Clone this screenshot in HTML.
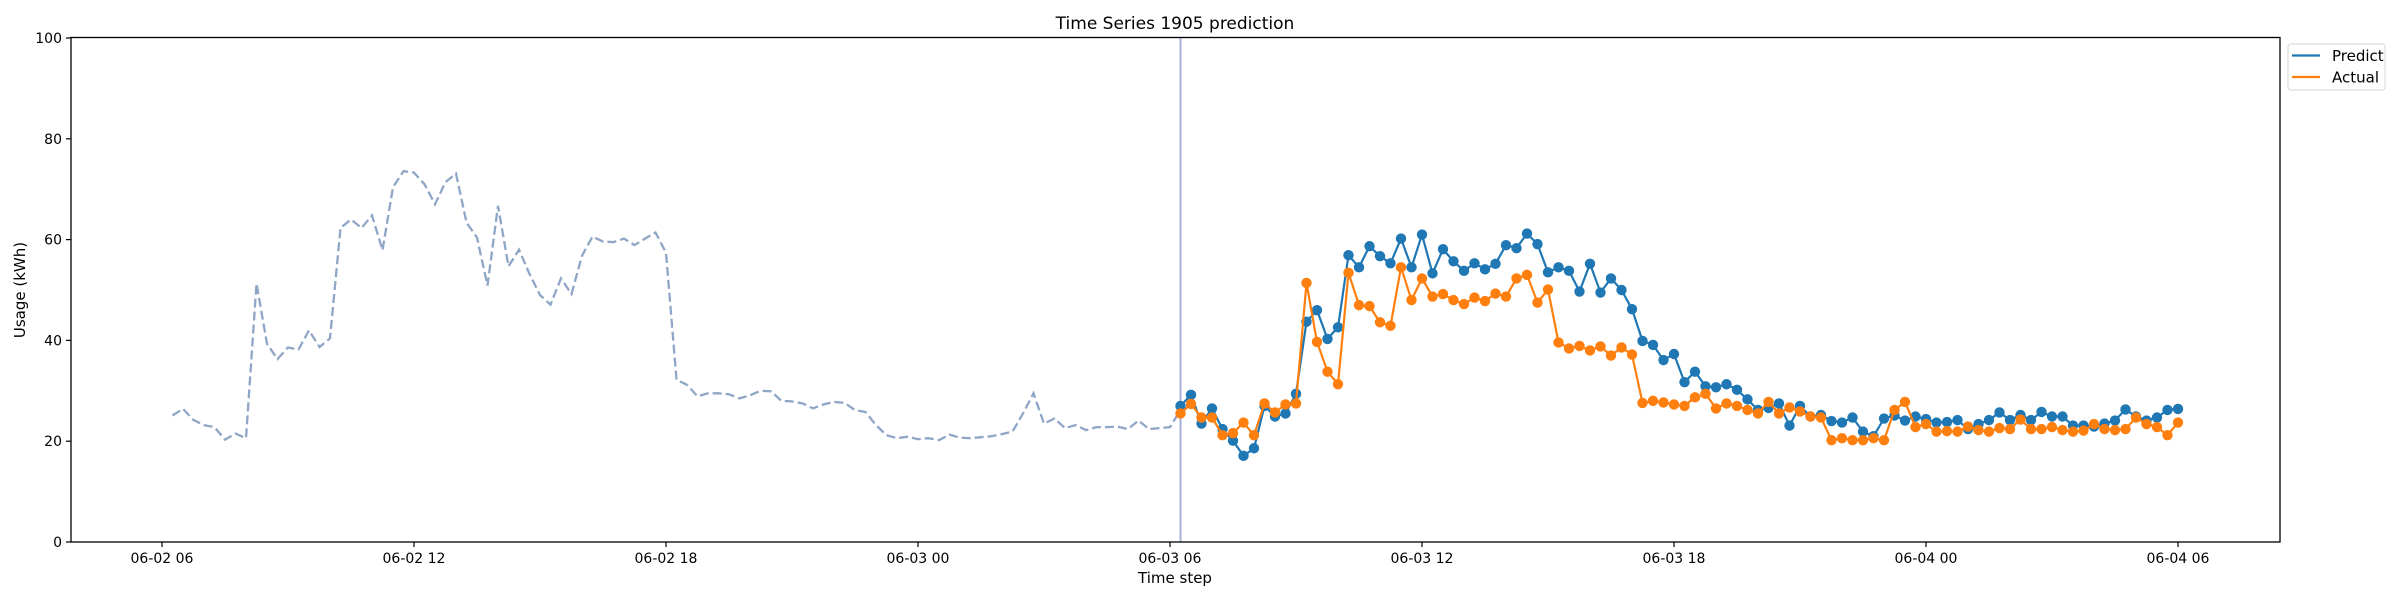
<!DOCTYPE html>
<html>
<head>
<meta charset="utf-8">
<style>
html,body{margin:0;padding:0;background:#fff;}
svg{display:block;font-family:"DejaVu Sans","Liberation Sans",sans-serif;}
</style>
</head>
<body>
<svg id="chart" width="2400" height="600" viewBox="0 0 2400 600" xmlns="http://www.w3.org/2000/svg">
  <rect x="0" y="0" width="2400" height="600" fill="#fff"/>
  <text x="1175" y="29" font-size="17" text-anchor="middle" fill="#000">Time Series 1905 prediction</text>
  <g id="grid"></g>
  <g id="series"></g>
  <rect x="71" y="37.5" width="2209" height="504.5" fill="none" stroke="#000" stroke-width="1.3"/>
  <g id="axes"></g>
  <text x="1175" y="583" font-size="15" text-anchor="middle" fill="#000">Time step</text>
  <text x="25" y="290" font-size="15" text-anchor="middle" fill="#000" transform="rotate(-90 25 290)">Usage (kWh)</text>
  <g>
    <rect x="2288" y="44" width="97" height="46" rx="3" fill="#fff" stroke="#d6d6d6" stroke-width="1"/>
    <line x1="2292" y1="55.5" x2="2320" y2="55.5" stroke="#1f77b4" stroke-width="2.2"/>
    <text x="2332" y="61" font-size="15" fill="#000">Predict</text>
    <line x1="2292" y1="77" x2="2320" y2="77" stroke="#ff7f0e" stroke-width="2.2"/>
    <text x="2332" y="82.5" font-size="15" fill="#000">Actual</text>
  </g>
</svg>
<script>
// History (15-min steps starting 06-02 06:15)
const historyValues = [25.1,26.4,24.2,23.2,22.8,20.3,21.5,20.6,51.3,39.3,36.3,38.6,38.2,42.0,38.7,40.4,62.3,64.0,62.3,64.8,57.9,70.4,73.6,73.3,71.0,67.0,71.4,73.1,63.4,60.4,50.9,66.7,54.7,58.0,53.2,49.0,47.1,52.3,49.2,56.8,60.6,59.6,59.5,60.2,58.9,60.2,61.4,57.4,32.2,31.2,28.9,29.5,29.5,29.3,28.5,29.1,30.0,29.9,28.0,27.9,27.5,26.5,27.3,27.8,27.6,26.2,25.8,23.2,21.2,20.6,20.9,20.4,20.6,20.2,21.3,20.7,20.6,20.8,21.0,21.4,21.9,25.5,29.5,23.5,24.5,22.6,23.2,22.2,22.8,22.8,22.9,22.4,24.1,22.4,22.6,22.8,26.2];
// Forecast (15-min steps starting 06-03 06:15)
const predictValues = [27.0,29.2,23.5,26.5,22.4,20.1,17.1,18.6,27.0,24.9,25.5,29.4,43.7,46.0,40.3,42.6,56.9,54.5,58.7,56.7,55.3,60.2,54.5,61.0,53.3,58.1,55.7,53.8,55.3,54.1,55.2,58.9,58.3,61.2,59.1,53.5,54.5,53.8,49.7,55.2,49.5,52.3,50.0,46.2,39.9,39.1,36.1,37.3,31.7,33.8,30.9,30.7,31.3,30.2,28.3,26.2,26.6,27.5,23.1,27.0,24.9,25.2,24.0,23.7,24.7,21.9,21.0,24.5,25.1,24.1,24.9,24.4,23.7,23.8,24.2,22.4,23.4,24.2,25.7,24.2,25.2,24.2,25.8,24.9,24.9,23.1,23.1,22.9,23.5,24.1,26.3,24.9,24.1,24.7,26.2,26.4];
const actualValues = [25.5,27.4,24.7,24.7,21.2,21.6,23.7,21.2,27.5,25.7,27.3,27.5,51.4,39.7,33.8,31.3,53.4,47.0,46.8,43.6,42.9,54.5,48.0,52.3,48.7,49.2,48.0,47.2,48.5,47.8,49.3,48.7,52.3,53.0,47.5,50.1,39.6,38.4,38.9,38.0,38.8,37.0,38.6,37.2,27.6,28.0,27.7,27.3,27.0,28.7,29.4,26.5,27.5,27.0,26.2,25.5,27.8,25.5,26.7,25.9,24.9,24.7,20.2,20.6,20.2,20.2,20.6,20.2,26.2,27.8,22.8,23.4,21.9,22.0,21.9,22.9,22.2,21.9,22.6,22.4,24.3,22.4,22.4,22.8,22.2,21.9,22.1,23.4,22.4,22.2,22.4,24.7,23.4,22.8,21.2,23.7];
const yTicks = [0,20,40,60,80,100];
const xTickHours = [0,6,12,18,24,30,36,42,48];
const xTickLabels = ["06-02 06","06-02 12","06-02 18","06-03 00","06-03 06","06-03 12","06-03 18","06-04 00","06-04 06"];
const historyStartHour = 0.25;
const forecastStartHour = 24.25;
const stepHours = 0.25;

const NS = "http://www.w3.org/2000/svg";
const X0 = 162, PXH = 42;           // 06-02 06:00 at x=162, 42 px per hour
const Y0 = 542, PXV = 5.04;          // value 0 at y=542
function xScale(h){ return X0 + h*PXH; }
function yScale(v){ return Y0 - v*PXV; }
function mk(tag, attrs, parent){
  const el = document.createElementNS(NS, tag);
  for (const k in attrs) el.setAttribute(k, attrs[k]);
  parent.appendChild(el);
  return el;
}
const axes = document.getElementById('axes');
const series = document.getElementById('series');

yTicks.forEach((t)=>{
  const y = yScale(t);
  const tk = mk('line',{x1:66,y1:y,x2:71,y2:y,stroke:'#000','stroke-width':1.2},axes);
  
  
  const tx = mk('text',{x:62,y:y+5,'font-size':14,'text-anchor':'end',fill:'#000'},axes);
  tx.textContent = t;
  
  
});
xTickHours.forEach((h,i)=>{
  const x = xScale(h);
  const tk = mk('line',{x1:x,y1:542,x2:x,y2:547,stroke:'#000','stroke-width':1.2},axes);
  
  
  const tx = mk('text',{x:x,y:563,'font-size':14,'text-anchor':'middle',fill:'#000'},axes);
  tx.textContent = xTickLabels[i];
  
  
});

// history dashed line
const hPts = historyValues.map((v,i)=>xScale(historyStartHour+i*stepHours).toFixed(1)+','+yScale(v).toFixed(1)).join(' ');
const hist = mk('polyline',{points:hPts,fill:'none',stroke:'#8fa6c6','stroke-width':2.3,'stroke-dasharray':'9,4'},series);



// forecast start marker
const vx = xScale(forecastStartHour);
const vl = mk('line',{x1:vx,y1:38,x2:vx,y2:542,stroke:'#a3b1d3','stroke-width':2},series);



function drawSeries(vals, color, name){
  const g = mk('g',{},series);
  
  
  const pts = vals.map((v,i)=>xScale(forecastStartHour+i*stepHours).toFixed(1)+','+yScale(v).toFixed(1)).join(' ');
  const pl = mk('polyline',{points:pts,fill:'none',stroke:color,'stroke-width':2.2},g);
  
  
  vals.forEach((v,i)=>{
    const c = mk('circle',{cx:xScale(forecastStartHour+i*stepHours),cy:yScale(v),r:5.2,fill:color},g);
    
    
  });
}
drawSeries(predictValues,'#1f77b4','predict');
drawSeries(actualValues,'#ff7f0e','actual');
</script>
</body>
</html>
